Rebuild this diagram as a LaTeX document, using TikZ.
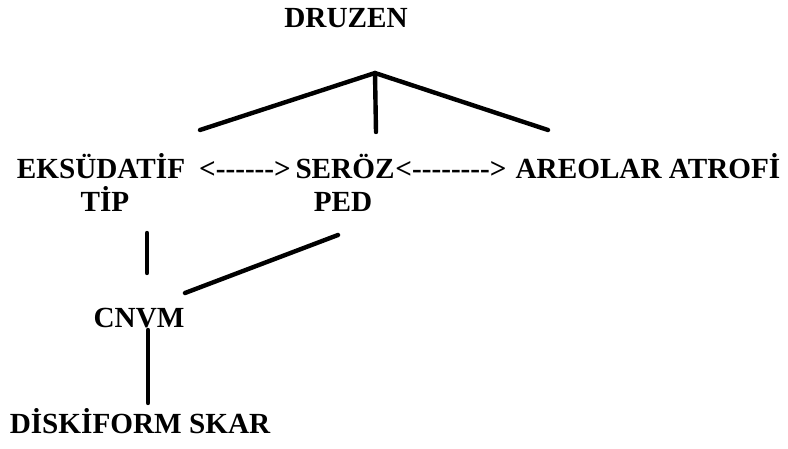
\documentclass[tikz,border=0pt]{standalone}
\usepackage{fontspec}
\setmainfont{Liberation Serif}
\begin{document}
\begin{tikzpicture}[x=0.5pt,y=-0.5pt,
  lbl/.style={font=\fontsize{14.6}{17}\selectfont\bfseries, inner sep=0pt, anchor=base, align=center},
  ln/.style={line width=2.2pt, line cap=round}]
\useasboundingbox (0,0) rectangle (788,449);
% texts
\node[lbl] (druzen) at (346,28) {DRUZEN};
\node[lbl] (eks) at (101,178) {EKSÜDATİF};
\node[lbl] (tip) at (105,212) {TİP};
\node[lbl] (arrA) at (245,178) {<-{}-{}-{}-{}-{}->};
\node[lbl] (seroz) at (345,178) {SERÖZ};
\node[lbl] (ped) at (343,212) {PED};
\node[lbl] (arrB) at (451,178) {<-{}-{}-{}-{}-{}-{}-{}->};
\node[lbl] (areolar) at (648,178) {AREOLAR ATROFİ};
\node[lbl] (cnvm) at (139,327) {CNVM};
\node[lbl] (disk) at (140,433) {DİSKİFORM SKAR};
% connector points
\coordinate (apex) at (375,73);
\coordinate (eksT) at (200,130);
\coordinate (serT) at (376,132);
\coordinate (areT) at (548,130);
\coordinate (tipB) at (147,233);
\coordinate (cnvmL) at (147,273);
\coordinate (pedB) at (338,235);
\coordinate (cnvmR) at (185,293);
\coordinate (cnvmB) at (148,330);
\coordinate (diskT) at (148,403);
% connectors
\draw[ln] (apex) -- (eksT);
\draw[ln] (apex) -- (serT);
\draw[ln] (apex) -- (areT);
\draw[ln] (tipB) -- (cnvmL);
\draw[ln] (pedB) -- (cnvmR);
\draw[ln] (cnvmB) -- (diskT);
\end{tikzpicture}
\end{document}
